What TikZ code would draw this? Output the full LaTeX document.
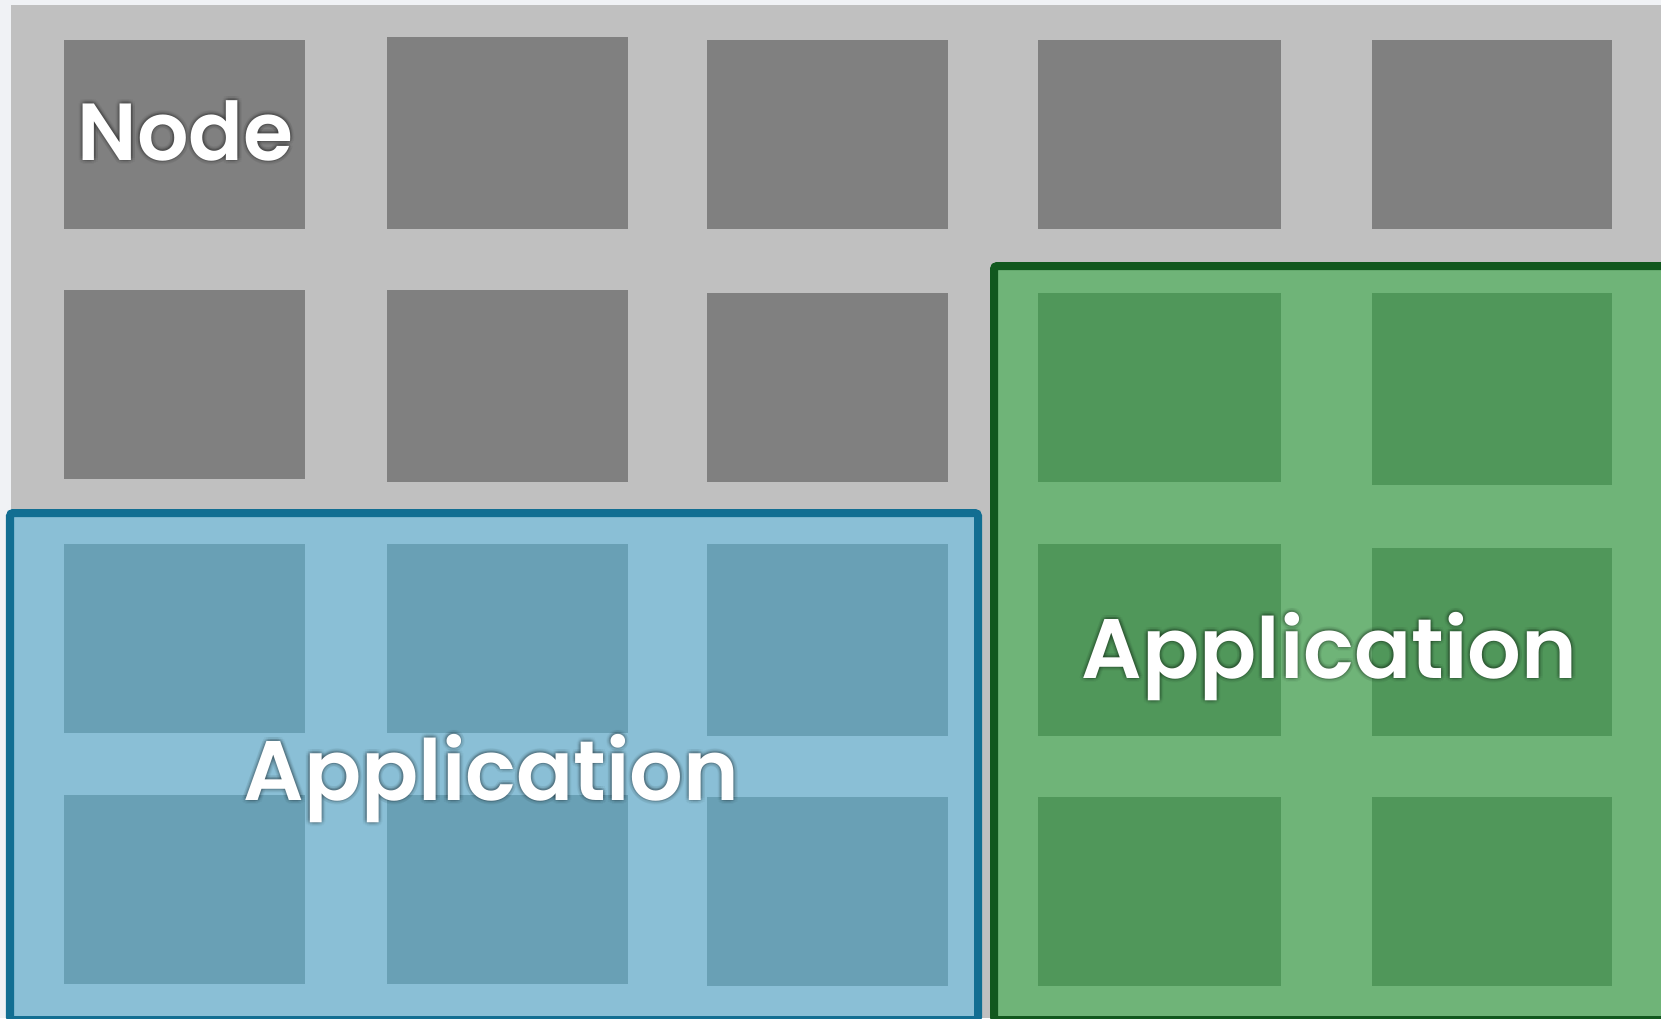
\documentclass[tikz,border=0pt]{standalone}
\usepackage{fontspec}
\newfontfamily\labelfont{Poppins}[BoldFont={Poppins SemiBold}]
\definecolor{pagebg}{HTML}{F0F2F5}
\definecolor{gridbg}{HTML}{C0C0C0}
\definecolor{cellgray}{HTML}{808080}
\definecolor{bluefill}{HTML}{8ABFD6}
\definecolor{bluecell}{HTML}{69A0B5}
\definecolor{blueline}{HTML}{126E92}
\definecolor{greenfill}{HTML}{6FB478}
\definecolor{greencell}{HTML}{50975A}
\definecolor{greenline}{HTML}{11581E}
\usetikzlibrary{calc}
\tikzset{
  graycell/.style={fill=cellgray},
  bluecellbox/.style={fill=bluecell},
  greencellbox/.style={fill=greencell},
  appframe/.style={line width=8pt*0.2845, rounded corners=3pt*0.2845},
  lbl/.style={font=\labelfont\bfseries, text=white, anchor=base, inner sep=0pt},
  lblshadow/.style={font=\labelfont\bfseries, text=black, anchor=base, inner sep=0pt}
}
\newcommand\shadowlabel[4]{% name, x, y, text
  \foreach \ang in {0,30,...,330}{
    \node[lblshadow, opacity=0.03] at ($(#2,#3)+(\ang:4)$) {#4};
    \node[lblshadow, opacity=0.035] at ($(#2,#3)+(\ang+15:2)$) {#4};
  }
  \node[lbl] (#1) at (#2,#3) {#4};
}
\begin{document}
\begin{tikzpicture}[x=0.01cm,y=-0.01cm]
\useasboundingbox (0,0) rectangle (1661,1018);
\fill[pagebg] (0,0) rectangle (1661,1018);
\fill[gridbg] (11,5) rectangle (1661,1018);
% grey cells
\fill[graycell] (64,40) rectangle (305,229);
\fill[graycell] (387,37) rectangle (628,229);
\fill[graycell] (707,40) rectangle (948,229);
\fill[graycell] (1038,40) rectangle (1281,229);
\fill[graycell] (1372,40) rectangle (1612,229);
\fill[graycell] (64,290) rectangle (305,479);
\fill[graycell] (387,290) rectangle (628,482);
\fill[graycell] (707,293) rectangle (948,482);
% blue application
\draw[appframe, draw=blueline, fill=bluefill] (10,513) rectangle (978,1020);
\fill[bluecellbox] (64,544) rectangle (305,733);
\fill[bluecellbox] (387,544) rectangle (628,733);
\fill[bluecellbox] (707,544) rectangle (948,736);
\fill[bluecellbox] (64,795) rectangle (305,984);
\fill[bluecellbox] (387,795) rectangle (628,984);
\fill[bluecellbox] (707,797) rectangle (948,986);
% green application
\draw[appframe, draw=greenline, fill=greenfill] (994,266) rectangle (1680,1020);
\fill[greencellbox] (1038,293) rectangle (1281,482);
\fill[greencellbox] (1372,293) rectangle (1612,485);
\fill[greencellbox] (1038,544) rectangle (1281,736);
\fill[greencellbox] (1372,548) rectangle (1612,736);
\fill[greencellbox] (1038,797) rectangle (1281,986);
\fill[greencellbox] (1372,797) rectangle (1612,986);
% labels
\shadowlabel{nodelbl}{185.5}{160}{\fontsize{23pt}{27pt}\selectfont Node}
\shadowlabel{bluelbl}{491.5}{800}{\fontsize{24pt}{28pt}\selectfont Application}
\shadowlabel{greenlbl}{1329.5}{678}{\fontsize{24pt}{28pt}\selectfont Application}
\end{tikzpicture}
\end{document}
